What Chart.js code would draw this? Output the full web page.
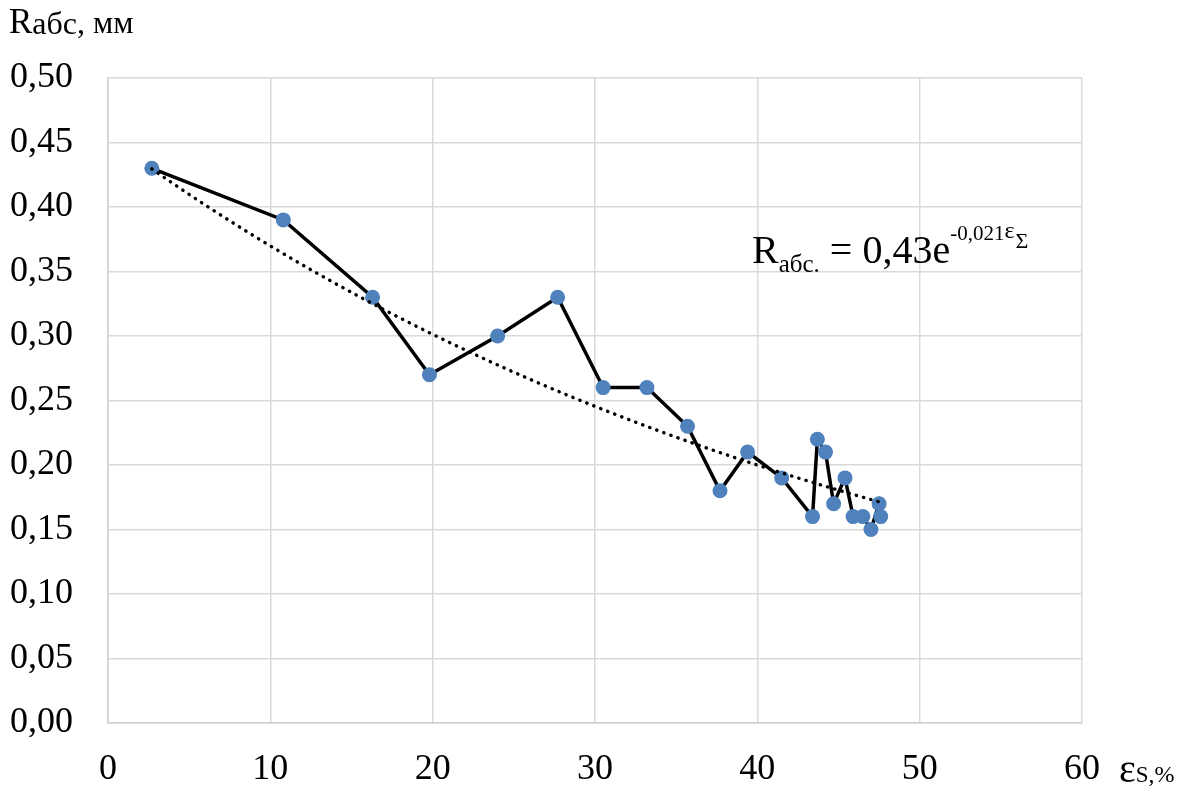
<!DOCTYPE html>
<html>
<head>
<meta charset="utf-8">
<script src="https://cdn.jsdelivr.net/npm/chart.js@4/dist/chart.umd.min.js"></script>
<style>
  html, body { margin: 0; padding: 0; background: #fff; }
  #wrap { width: 1194px; height: 798px; position: relative; }
</style>
</head>
<body>
<div id="wrap"><canvas id="c" width="1194" height="798"></canvas></div>
<script>
// total strain, %
const strain = [2.7, 10.8, 16.3, 19.8, 24.0, 27.7, 30.5, 33.2, 35.7, 37.7, 39.4,
                41.5, 43.4, 43.7, 44.2, 44.7, 45.4, 45.9, 46.5, 47.0, 47.5, 47.6];
// absolute roughness, mm
const roughness = [0.43, 0.39, 0.33, 0.27, 0.30, 0.33, 0.26, 0.26, 0.23, 0.18, 0.21,
                   0.19, 0.16, 0.22, 0.21, 0.17, 0.19, 0.16, 0.16, 0.15, 0.17, 0.16];
// axis ticks
const xTicks = [0, 10, 20, 30, 40, 50, 60];
const yTicks = [0, 0.05, 0.10, 0.15, 0.20, 0.25, 0.30, 0.35, 0.40, 0.45, 0.50];
// exponential trend line y = A * exp(-K * x), drawn over the span of the data
const trendA = 0.454;
const trendK = 0.0205;
const trendFrom = 2.7;
const trendTo = 47.5;

const trend = [];
for (let i = 0; i <= 90; i++) {
  const x = trendFrom + (trendTo - trendFrom) * i / 90;
  trend.push({ x, y: trendA * Math.exp(-trendK * x) });
}

const SERIF = '"Liberation Serif", "Times New Roman", serif';

// free-standing labels: axis titles and the trend equation
const labelsPlugin = {
  id: 'labels',
  afterDraw(chart) {
    const ctx = chart.ctx;
    ctx.save();
    ctx.fillStyle = '#000';
    ctx.textBaseline = 'alphabetic';
    ctx.textAlign = 'left';
    function run(parts, x, y) {
      for (const p of parts) {
        ctx.font = p.size + 'px ' + SERIF;
        ctx.fillText(p.t, x, y + (p.dy || 0));
        x += ctx.measureText(p.t).width + (p.gap || 0);
      }
    }
    // y-axis title
    run([{ t: 'R', size: 35 }, { t: 'абс', size: 32, dy: 1 }, { t: ', мм', size: 32 }], 9, 33);
    // x-axis title
    run([{ t: 'ε', size: 40 }, { t: 'S', size: 23 }, { t: ',%', size: 24 }], 1119, 782);
    // trend equation
    run([{ t: 'R', size: 40 }, { t: 'абс.', size: 25, dy: 9 }, { t: ' = 0,43e', size: 40 },
         { t: '-0,021', size: 21, dy: -23 }, { t: 'ε', size: 24, dy: -25, gap: 1 }, { t: 'Σ', size: 22, dy: -15 }],
        752, 263);
    ctx.restore();
  }
};

new Chart(document.getElementById('c'), {
  type: 'scatter',
  data: {
    datasets: [
      {
        label: 'trend',
        data: trend,
        showLine: true,
        borderColor: '#000',
        borderWidth: 3.4,
        borderCapStyle: 'round',
        borderDash: [0.3, 7.2],
        pointRadius: 0,
        fill: false,
        order: 0
      },
      {
        label: 'Rабс',
        data: strain.map((x, i) => ({ x, y: roughness[i] })),
        showLine: true,
        borderColor: '#000',
        borderWidth: 3.5,
        pointRadius: 7.5,
        pointBackgroundColor: '#4f81bd',
        pointBorderColor: '#4f81bd',
        pointBorderWidth: 0,
        fill: false,
        order: 1
      }
    ]
  },
  options: {
    responsive: false,
    animation: false,
    layout: { padding: { left: 0, top: 78, right: 112, bottom: 0 } },
    plugins: { legend: { display: false }, tooltip: { enabled: false } },
    scales: {
      x: {
        type: 'linear',
        min: 0, max: 60,
        afterBuildTicks: s => { s.ticks = xTicks.map(v => ({ value: v })); },
        afterFit: s => { s.height = 75; },
        grid: { color: '#d9d9d9', lineWidth: 1.5, drawTicks: false },
        border: { color: '#d0d0d0', width: 1.5 },
        ticks: {
          color: '#000', padding: 25,
          font: { family: SERIF, size: 36 },
          callback: v => String(v)
        }
      },
      y: {
        type: 'linear',
        min: 0, max: 0.5,
        afterBuildTicks: s => { s.ticks = yTicks.map(v => ({ value: v })); },
        afterFit: s => { s.width = 108; },
        grid: { color: '#d9d9d9', lineWidth: 1.5, drawTicks: false },
        border: { color: '#d0d0d0', width: 1.5 },
        ticks: {
          color: '#000', padding: 35,
          font: { family: SERIF, size: 36 },
          callback: v => v.toFixed(2).replace('.', ',')
        }
      }
    }
  },
  plugins: [labelsPlugin]
});
</script>
</body>
</html>
